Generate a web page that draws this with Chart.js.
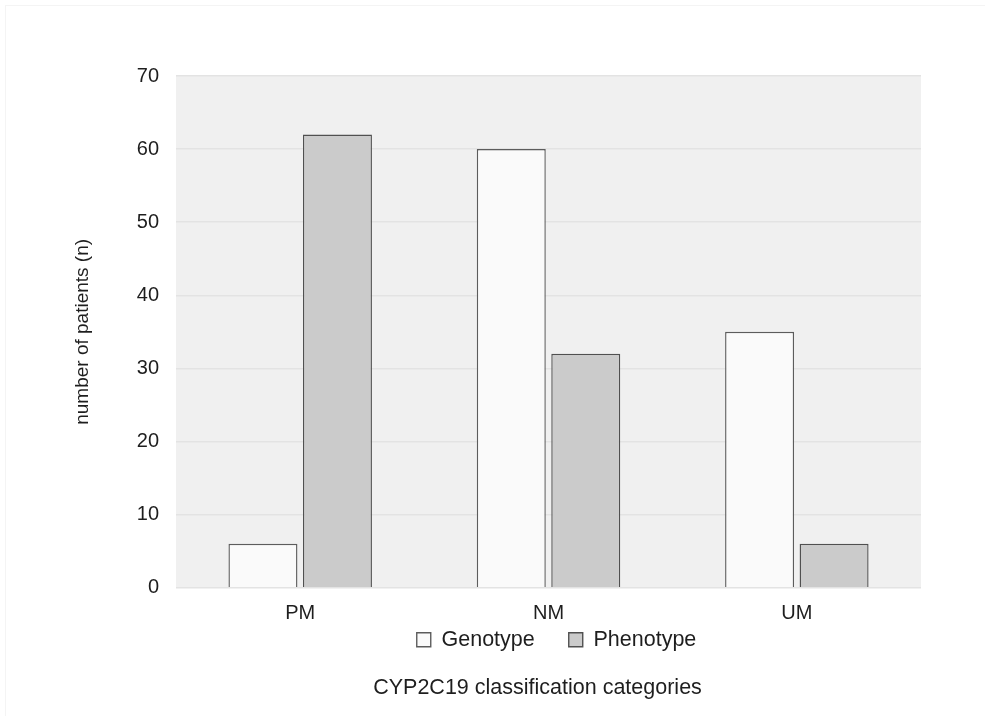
<!DOCTYPE html>
<html>
<head>
<meta charset="utf-8">
<script src="https://cdn.jsdelivr.net/npm/chart.js@4.4.1/dist/chart.umd.min.js"></script>
<style>
  html, body { margin: 0; padding: 0; background: #ffffff; }
  #wrap { position: relative; width: 986px; height: 717px; }
  #frame { position: absolute; left: 5px; top: 5px; width: 980px; height: 711px; border-left: 1px solid #f4f4f4; border-top: 1px solid #f4f4f4; box-sizing: border-box; }
  canvas { position: absolute; left: 0; top: 0; }
</style>
</head>
<body>
<div id="wrap">
  <div id="frame"></div>
  <canvas id="c" width="986" height="717"></canvas>
</div>
<script>
// CYP2C19 metabolizer categories
const categories = ['PM', 'NM', 'UM'];
const genotypeCounts = [6, 60, 35];
const phenotypeCounts = [62, 32, 6];
const yTicks = [0, 10, 20, 30, 40, 50, 60, 70];

const FONT = 'Liberation Sans, Arial, Helvetica, sans-serif';
const TEXT = '#1e1e1e';

// Fills the plotting region with a light gray panel
const panelBackground = {
  id: 'panelBackground',
  beforeDraw(chart) {
    const { ctx, chartArea: a } = chart;
    ctx.save();
    ctx.fillStyle = '#f0f0f0';
    ctx.fillRect(a.left, a.top, a.right - a.left, a.bottom - a.top);
    ctx.restore();
  }
};

// Nudges the legend and the bottom title into their final positions
function nudge(box, dx, dy) {
  if (!box) return;
  box.left += dx; box.right += dx;
  box.top += dy; box.bottom += dy;
}
const bottomBlocks = {
  id: 'bottomBlocks',
  afterLayout(chart) {
    nudge(chart.legend, 8, -44.75);
    nudge(chart.titleBlock, -11, -30.4);
  }
};

new Chart(document.getElementById('c'), {
  type: 'bar',
  data: {
    labels: categories,
    datasets: [
      {
        label: 'Genotype',
        data: genotypeCounts,
        backgroundColor: '#fafafa',
        borderColor: '#5c5c5c',
        borderWidth: 1.4
      },
      {
        label: 'Phenotype',
        data: phenotypeCounts,
        backgroundColor: '#cbcbcb',
        borderColor: '#505050',
        borderWidth: 1.4
      }
    ]
  },
  options: {
    responsive: false,
    animation: false,
    devicePixelRatio: 1,
    layout: { padding: { top: 76, right: 65, bottom: -14, left: 71 } },
    datasets: {
      bar: { categoryPercentage: 0.6, barPercentage: 0.926 }
    },
    scales: {
      x: {
        grid: { display: false, drawTicks: false },
        border: { display: false },
        ticks: { color: TEXT, font: { family: FONT, size: 20 }, padding: 14 }
      },
      y: {
        min: 0,
        max: 70,
        afterBuildTicks(scale) { scale.ticks = yTicks.map(v => ({ value: v })); },
        grid: { color: '#e3e3e3', lineWidth: 1.5, drawTicks: false },
        border: { display: false },
        ticks: { color: TEXT, font: { family: FONT, size: 20 }, padding: 17 },
        title: {
          display: true,
          text: 'number of patients (n)',
          color: TEXT,
          font: { family: FONT, size: 19 },
          padding: { top: 0, bottom: 26 }
        }
      }
    },
    plugins: {
      legend: {
        position: 'bottom',
        fullSize: false,
        labels: {
          color: TEXT,
          font: { family: FONT, size: 21.5 },
          boxWidth: 14,
          boxHeight: 14,
          padding: 34,
          useBorderRadius: false
        }
      },
      title: {
        display: true,
        position: 'bottom',
        fullSize: false,
        text: 'CYP2C19 classification categories',
        color: TEXT,
        font: { family: FONT, size: 21.5, weight: 'normal' },
        padding: { top: 0, bottom: 0 }
      },
      tooltip: { enabled: false }
    }
  },
  plugins: [panelBackground, bottomBlocks]
});
</script>
</body>
</html>
